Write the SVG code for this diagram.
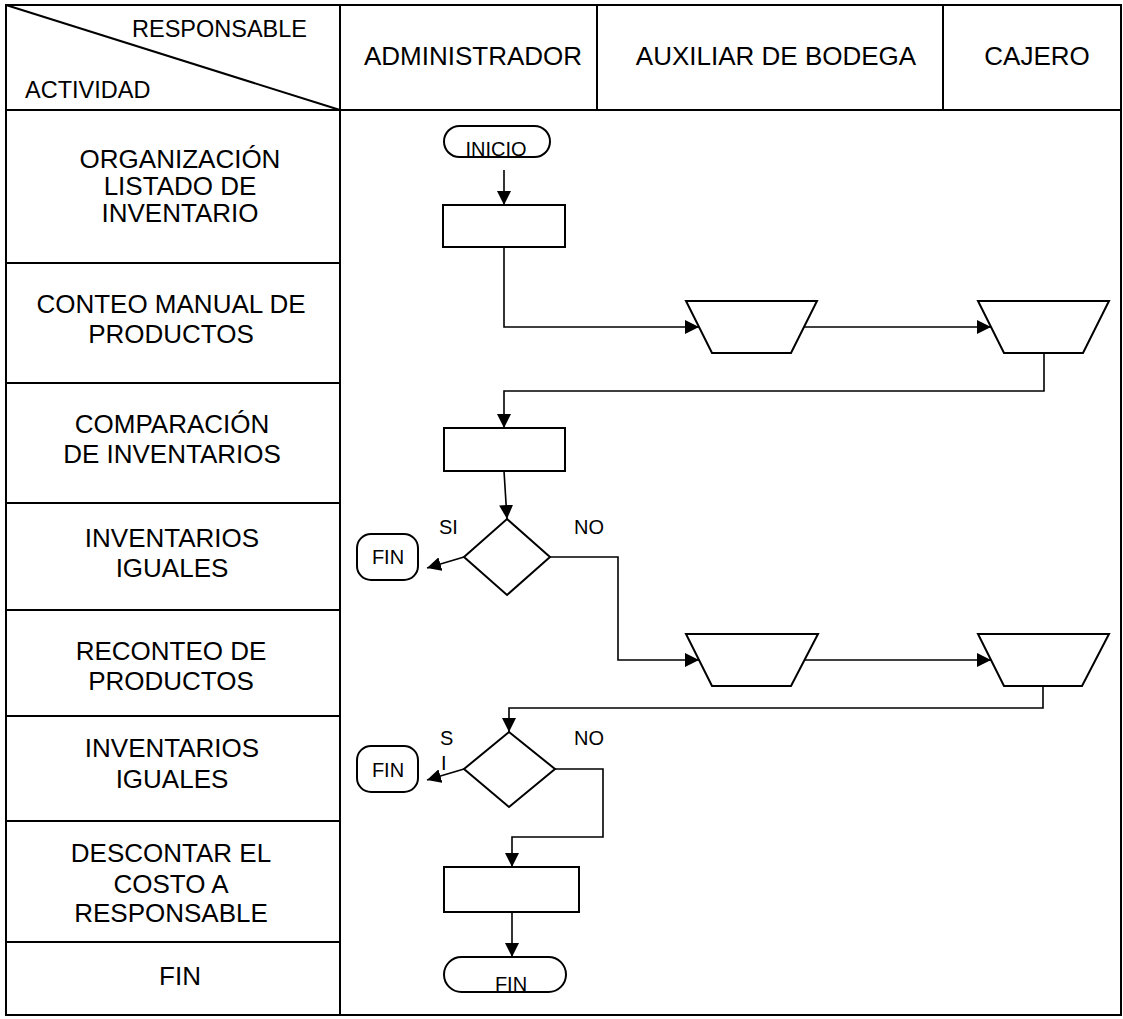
<svg xmlns="http://www.w3.org/2000/svg" width="1123" height="1019" viewBox="0 0 1123 1019">
  <style>
    .grid { stroke: #000; stroke-width: 2; fill: none; }
    .shape { stroke: #000; stroke-width: 2; fill: #fff; }
    .wire { stroke: #000; stroke-width: 1.6; fill: none; }
    text { font-family: "Liberation Sans", Arial, sans-serif; fill: #000; }
    .corner { font-size: 23.5px; }
    .hdr { font-size: 26px; text-anchor: middle; }
    .act { font-size: 26px; text-anchor: middle; }
    .lbl { font-size: 20px; }
    .term { font-size: 20px; text-anchor: middle; }
  </style>
  <defs>
    <marker id="arrow" viewBox="0 0 14 14" refX="14" refY="7" markerWidth="14" markerHeight="14" markerUnits="userSpaceOnUse" orient="auto">
      <path d="M0,0 L14,7 L0,14 Z" fill="#000"/>
    </marker>
  </defs>

  <!-- table frame -->
  <g id="table">
    <rect class="grid" x="6" y="5" width="1115" height="1010"/>
    <line class="grid" x1="6" y1="110" x2="1121" y2="110"/>
    <line class="grid" x1="340" y1="5" x2="340" y2="1015"/>
    <line class="grid" x1="597" y1="5" x2="597" y2="110"/>
    <line class="grid" x1="943" y1="5" x2="943" y2="110"/>
    <line class="grid" x1="6" y1="5" x2="340" y2="110"/>
    <line class="grid" x1="6" y1="263" x2="340" y2="263"/>
    <line class="grid" x1="6" y1="383" x2="340" y2="383"/>
    <line class="grid" x1="6" y1="503" x2="340" y2="503"/>
    <line class="grid" x1="6" y1="610" x2="340" y2="610"/>
    <line class="grid" x1="6" y1="716" x2="340" y2="716"/>
    <line class="grid" x1="6" y1="821" x2="340" y2="821"/>
    <line class="grid" x1="6" y1="942" x2="340" y2="942"/>
  </g>

  <!-- header -->
  <g id="header">
    <text class="corner" x="307" y="37" text-anchor="end">RESPONSABLE</text>
    <text class="corner" x="25" y="98">ACTIVIDAD</text>
    <text class="hdr" x="473" y="65">ADMINISTRADOR</text>
    <text class="hdr" x="776" y="65">AUXILIAR DE BODEGA</text>
    <text class="hdr" x="1037" y="65">CAJERO</text>
  </g>

  <!-- activity column -->
  <g id="activities">
    <text class="act" x="180" y="168">ORGANIZACIÓN</text>
    <text class="act" x="180" y="195">LISTADO DE</text>
    <text class="act" x="180" y="222">INVENTARIO</text>
    <text class="act" x="171" y="313">CONTEO MANUAL DE</text>
    <text class="act" x="171" y="343">PRODUCTOS</text>
    <text class="act" x="172" y="433">COMPARACIÓN</text>
    <text class="act" x="172" y="463">DE INVENTARIOS</text>
    <text class="act" x="172" y="547">INVENTARIOS</text>
    <text class="act" x="172" y="577">IGUALES</text>
    <text class="act" x="171" y="660">RECONTEO DE</text>
    <text class="act" x="171" y="690">PRODUCTOS</text>
    <text class="act" x="172" y="757">INVENTARIOS</text>
    <text class="act" x="172" y="788">IGUALES</text>
    <text class="act" x="171" y="862">DESCONTAR EL</text>
    <text class="act" x="171" y="893">COSTO A</text>
    <text class="act" x="171" y="922">RESPONSABLE</text>
    <text class="act" x="180" y="985">FIN</text>
  </g>

  <!-- connectors -->
  <g id="connectors">
    <line class="wire" x1="504" y1="170" x2="504" y2="205" marker-end="url(#arrow)"/>
    <polyline class="wire" points="504,247 504,327 699,327" marker-end="url(#arrow)"/>
    <line class="wire" x1="804" y1="327" x2="991" y2="327" marker-end="url(#arrow)"/>
    <polyline class="wire" points="1044,353 1044,391 504,391 504,428" marker-end="url(#arrow)"/>
    <line class="wire" x1="504" y1="471" x2="507" y2="519" marker-end="url(#arrow)"/>
    <line class="wire" x1="464" y1="557" x2="427" y2="568" marker-end="url(#arrow)"/>
    <polyline class="wire" points="550,557 618,557 618,660 699,660" marker-end="url(#arrow)"/>
    <line class="wire" x1="804" y1="660" x2="991" y2="660" marker-end="url(#arrow)"/>
    <polyline class="wire" points="1043,686 1043,708 509,708 509,732" marker-end="url(#arrow)"/>
    <line class="wire" x1="464" y1="769" x2="427" y2="780" marker-end="url(#arrow)"/>
    <polyline class="wire" points="555,769 603,769 603,837 512,837 512,867" marker-end="url(#arrow)"/>
    <line class="wire" x1="512" y1="912" x2="512" y2="957" marker-end="url(#arrow)"/>
  </g>

  <!-- flow nodes -->
  <g id="inicio">
    <rect class="shape" x="444" y="126" width="106" height="31" rx="15.5"/>
    <text class="term" x="496" y="156">INICIO</text>
  </g>
  <g id="organizar">
    <rect class="shape" x="443" y="205" width="122" height="42"/>
  </g>
  <g id="conteo-aux">
    <polygon class="shape" points="686,301 817,301 791,353 712,353"/>
  </g>
  <g id="conteo-cajero">
    <polygon class="shape" points="978,301 1109,301 1083,353 1004,353"/>
  </g>
  <g id="comparar">
    <rect class="shape" x="444" y="428" width="121" height="43"/>
  </g>
  <g id="decision-1">
    <polygon class="shape" points="507,519 550,557 507,595 464,557"/>
    <text class="lbl" x="439" y="534">SI</text>
    <text class="lbl" x="574" y="534">NO</text>
  </g>
  <g id="fin-1">
    <rect class="shape" x="357" y="534" width="61" height="46" rx="14"/>
    <text class="lbl" x="388" y="564" text-anchor="middle">FIN</text>
  </g>
  <g id="reconteo-aux">
    <polygon class="shape" points="686,634 818,634 791,686 712,686"/>
  </g>
  <g id="reconteo-cajero">
    <polygon class="shape" points="978,634 1109,634 1082,686 1004,686"/>
  </g>
  <g id="decision-2">
    <polygon class="shape" points="509,732 555,769 509,807 464,769"/>
    <text class="lbl" x="440" y="745">S</text>
    <text class="lbl" x="441" y="770">I</text>
    <text class="lbl" x="574" y="745">NO</text>
  </g>
  <g id="fin-2">
    <rect class="shape" x="357" y="746" width="61" height="46" rx="14"/>
    <text class="lbl" x="388" y="777" text-anchor="middle">FIN</text>
  </g>
  <g id="descontar">
    <rect class="shape" x="444" y="867" width="135" height="45"/>
  </g>
  <g id="fin">
    <rect class="shape" x="444" y="957" width="122" height="35" rx="17.5"/>
    <text class="term" x="511" y="991">FIN</text>
  </g>
</svg>
